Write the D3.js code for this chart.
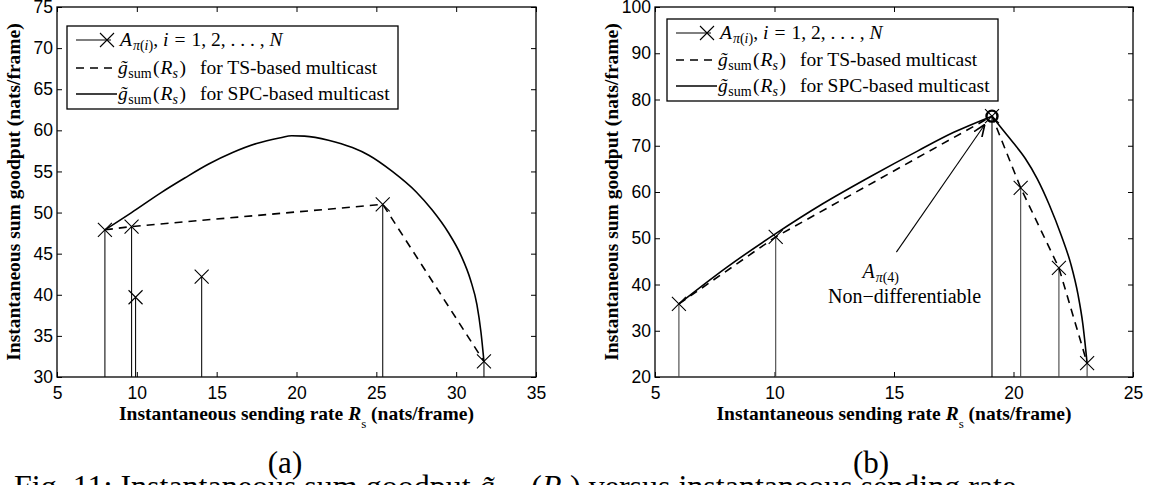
<!DOCTYPE html>
<html><head><meta charset="utf-8">
<script src="https://cdn.jsdelivr.net/npm/d3@7"></script>
<style>
html,body{margin:0;padding:0;background:#fff;overflow:hidden;}
svg{display:block;}
</style></head>
<body>
<script>
// ---------- DATA ----------
// Panel (a)
const aPointX = [8.0, 9.67, 9.92, 14.06, 25.4, 31.74];
const aPointY = [47.9, 48.3, 39.7, 42.2, 51.0, 31.9];
const aTSX = [8.0, 9.67, 25.4, 31.74];
const aTSY = [47.9, 48.3, 51.0, 31.9];
const aSPCX = [8, 9.67, 11.5, 13, 14.5, 16, 17.5, 19, 19.7, 20.5, 22, 23.5, 24.5, 26, 27.5, 28.5, 29.5, 30.3, 30.9, 31.3, 31.55, 31.74];
const aSPCY = [47.9, 50.0, 52.4, 54.2, 55.9, 57.3, 58.4, 59.1, 59.35, 59.3, 58.8, 57.9, 57.0, 55.0, 52.5, 50.3, 47.6, 44.8, 41.8, 38.8, 35.5, 31.9];
const aXTicks = [5, 10, 15, 20, 25, 30, 35];
const aYTicks = [30, 35, 40, 45, 50, 55, 60, 65, 70, 75];

// Panel (b)
const bPointX = [6.0, 10.05, 19.1, 20.3, 21.9, 23.08];
const bPointY = [35.8, 50.3, 76.4, 60.9, 43.6, 23.0];
const bTSX = [6.0, 10.05, 19.1, 20.3, 21.9, 23.08];
const bTSY = [35.8, 50.3, 76.4, 60.9, 43.6, 23.0];
const bSPCLeftX = [6, 8, 10.05, 12, 14, 16, 17.5, 19.1];
const bSPCLeftY = [35.8, 43.7, 51.0, 57.4, 63.3, 68.9, 72.9, 76.4];
const bSPCRightX = [19.1, 19.5, 20, 20.5, 21, 21.5, 22, 22.4, 22.7, 22.9, 23.08];
const bSPCRightY = [76.4, 73.8, 70.6, 67.2, 62.8, 57.2, 50.6, 44.4, 37.8, 31.5, 23.0];
const bXTicks = [5, 10, 15, 20, 25];
const bYTicks = [20, 30, 40, 50, 60, 70, 80, 90, 100];
const bPeakIndex = 2;

// Text
const xLabelMain = "Instantaneous sending rate ";
const yLabelText = "Instantaneous sum goodput (nats/frame)";
const captions = ["(a)", "(b)"];
const annot1 = "Non\u2212differentiable";
const legendSuffix = ["for TS-based multicast", "for SPC-based multicast"];

// ---------- DRAW ----------
const W = 1149, H = 485;
const ser = "'Liberation Serif', 'Times New Roman', serif";
const sans = "'Liberation Sans', Arial, sans-serif";
const svg = d3.select("body").append("svg").attr("width", W).attr("height", H)
  .style("font-family", sans);

const defs = svg.append("defs");
defs.append("marker").attr("id", "arrow").attr("viewBox", "0 0 10 10")
  .attr("refX", 10).attr("refY", 5).attr("markerWidth", 12).attr("markerHeight", 12)
  .attr("markerUnits", "userSpaceOnUse").attr("orient", "auto")
  .append("path").attr("d", "M0,1 L10,5 L0,9").attr("fill", "none").attr("stroke", "#000").attr("stroke-width", 1.4);

function zip(xs, ys) { return xs.map((x, i) => [x, ys[i]]); }
function xMark(cx, cy, m) { return `M${cx - m},${cy - m}L${cx + m},${cy + m}M${cx - m},${cy + m}L${cx + m},${cy - m}`; }

function panel(cfg) {
  const x = d3.scaleLinear().domain(cfg.xd).range([cfg.x0, cfg.x1]);
  const y = d3.scaleLinear().domain(cfg.yd).range([cfg.y1, cfg.y0]);
  const g = svg.append("g");
  const tl = 5;
  const ax = g.append("g").attr("transform", `translate(0,${cfg.y1})`)
    .call(d3.axisBottom(x).tickValues(cfg.xticks).tickSizeInner(-tl).tickSizeOuter(0));
  const axT = g.append("g").attr("transform", `translate(0,${cfg.y0})`)
    .call(d3.axisTop(x).tickValues(cfg.xticks).tickSizeInner(-tl).tickSizeOuter(0).tickFormat(""));
  const ay = g.append("g").attr("transform", `translate(${cfg.x0},0)`)
    .call(d3.axisLeft(y).tickValues(cfg.yticks).tickSizeInner(-tl).tickSizeOuter(0).tickPadding(4));
  const ayR = g.append("g").attr("transform", `translate(${cfg.x1},0)`)
    .call(d3.axisRight(y).tickValues(cfg.yticks).tickSizeInner(-tl).tickSizeOuter(0).tickFormat(""));
  [ax, axT, ay, ayR].forEach(a => {
    a.select(".domain").remove();
    a.selectAll("line").attr("stroke", "#000").attr("stroke-width", 1);
    a.selectAll("text").attr("fill", "#000").style("font-size", "17.5px").style("font-family", sans);
  });
  ax.selectAll("text").attr("y", 10).attr("dy", "0.71em");
  g.append("rect").attr("x", cfg.x0).attr("y", cfg.y0).attr("width", cfg.x1 - cfg.x0)
    .attr("height", cfg.y1 - cfg.y0).attr("fill", "none").attr("stroke", "#000").attr("stroke-width", 1.3);

  const pts = zip(cfg.px, cfg.py);
  g.selectAll(null).data(pts).enter().append("line")
    .attr("x1", d => x(d[0])).attr("x2", d => x(d[0]))
    .attr("y1", y(cfg.yd[0])).attr("y2", d => y(d[1]))
    .attr("stroke", (d, i) => i === cfg.peak ? "#000" : cfg.stemColor).attr("stroke-width", 1.1);

  const line = d3.line().x(d => x(d[0])).y(d => y(d[1]));
  const lineM = d3.line().x(d => x(d[0])).y(d => y(d[1])).curve(d3.curveMonotoneX);
  cfg.spc.forEach(s => {
    g.append("path").attr("d", lineM(s)).attr("fill", "none").attr("stroke", "#000").attr("stroke-width", 1.6);
  });
  g.append("path").attr("d", line(cfg.ts)).attr("fill", "none").attr("stroke", "#000")
    .attr("stroke-width", 1.6).attr("stroke-dasharray", "8,6");
  const m = 7;
  g.selectAll(null).data(pts).enter().append("path")
    .attr("d", d => xMark(x(d[0]), y(d[1]), m))
    .attr("stroke", "#000").attr("stroke-width", 1.1).attr("fill", "none");
  if (cfg.peak != null) {
    const d = pts[cfg.peak];
    g.append("circle").attr("cx", x(d[0])).attr("cy", y(d[1])).attr("r", 5.5)
      .attr("fill", "none").attr("stroke", "#000").attr("stroke-width", 2.4);
  }

  // axis labels
  const xl = g.append("text").attr("x", (cfg.x0 + cfg.x1) / 2).attr("y", cfg.y1 + 43)
    .attr("text-anchor", "middle").style("font-family", ser)
    .style("font-weight", "bold").style("font-size", "19.5px").attr("fill", "#000");
  xl.append("tspan").text(xLabelMain);
  xl.append("tspan").text("R").style("font-style", "italic");
  xl.append("tspan").text("s").attr("dy", 8).style("font-size", "13px").style("font-weight", "normal");
  xl.append("tspan").text(" (nats/frame)").attr("dy", -8);

  g.append("text").attr("transform", `translate(${cfg.x0 - 44},${(cfg.y0 + cfg.y1) / 2}) rotate(-90)`)
    .attr("text-anchor", "middle").attr("dy", "0.35em")
    .style("font-family", ser).style("font-weight", "bold").style("font-size", "19.5px")
    .attr("fill", "#000").text(yLabelText);

  // legend
  const L = cfg.legend;
  g.append("rect").attr("x", L.x).attr("y", L.y).attr("width", L.w).attr("height", L.h)
    .attr("fill", "#fff").attr("stroke", "#000").attr("stroke-width", 1.3);
  const X = v => L.x + v;
  const fs = "19.5px", sub = "14px";
  // row 1
  g.append("line").attr("x1", X(9)).attr("x2", X(44)).attr("y1", L.r[0]).attr("y2", L.r[0])
    .attr("stroke", "#000").attr("stroke-width", 1.1);
  g.append("path").attr("d", xMark(X(40), L.r[0], m)).attr("stroke", "#000").attr("stroke-width", 1.1);
  const t1 = g.append("text").attr("y", L.r[0] + 6).style("font-family", ser).style("font-size", fs).attr("fill", "#000");
  t1.append("tspan").attr("x", X(53)).text("A").style("font-style", "italic");
  t1.append("tspan").attr("dy", 4).attr("dx", 1).text("\u03c0").style("font-size", sub).style("font-style", "italic");
  t1.append("tspan").text("(").style("font-size", sub);
  t1.append("tspan").text("i").style("font-size", sub).style("font-style", "italic");
  t1.append("tspan").text(")").style("font-size", sub);
  t1.append("tspan").attr("dy", -4).text(",");
  t1.append("tspan").attr("dx", 5).text("i").style("font-style", "italic");
  t1.append("tspan").attr("dx", 6).text("=");
  t1.append("tspan").attr("dx", 6).text("1, 2, . . . , ");
  t1.append("tspan").text("N").style("font-style", "italic");
  // rows 2, 3
  [1, 2].forEach(k => {
    const yy = L.r[k];
    g.append("line").attr("x1", X(9)).attr("x2", X(50)).attr("y1", yy).attr("y2", yy)
      .attr("stroke", "#000").attr("stroke-width", 1.6).attr("stroke-dasharray", k === 1 ? "8,6" : null);
    const t = g.append("text").attr("y", yy + 6).style("font-family", ser).style("font-size", fs).attr("fill", "#000");
    t.append("tspan").attr("x", X(51)).text("g\u0303").style("font-style", "italic");
    t.append("tspan").attr("dy", 4).attr("dx", 0.5).text("sum").style("font-size", sub);
    t.append("tspan").attr("dy", -4).attr("dx", 1.5).text("(");
    t.append("tspan").attr("dx", 1).text("R").style("font-style", "italic");
    t.append("tspan").attr("dy", 4).text("s").style("font-size", sub).style("font-style", "italic");
    t.append("tspan").attr("dy", -4).attr("dx", 1.5).text(")");
    t.append("tspan").attr("x", X(133)).text(legendSuffix[k - 1]);
  });

  g.append("text").attr("x", cfg.capX).attr("y", 473).attr("text-anchor", "middle")
    .style("font-family", ser).style("font-size", "31px").attr("fill", "#000").text(cfg.cap);
  return { x, y, g };
}

panel({
  x0: 57, x1: 536, y0: 7, y1: 377, xd: [5, 35], yd: [30, 75], xticks: aXTicks, yticks: aYTicks,
  px: aPointX, py: aPointY, ts: zip(aTSX, aTSY), spc: [zip(aSPCX, aSPCY)], peak: null, stemColor: "#111",
  legend: { x: 67, y: 26, w: 331, h: 83, r: [40, 68, 94] }, cap: captions[0], capX: 285
});
const pb = panel({
  x0: 655, x1: 1133, y0: 7, y1: 377, xd: [5, 25], yd: [20, 100], xticks: bXTicks, yticks: bYTicks,
  px: bPointX, py: bPointY, ts: zip(bTSX, bTSY), spc: [zip(bSPCLeftX, bSPCLeftY), zip(bSPCRightX, bSPCRightY)],
  peak: bPeakIndex, stemColor: "#444",
  legend: { x: 667, y: 19, w: 331, h: 82, r: [33, 60, 86] }, cap: captions[1], capX: 871
});

// annotation in (b)
pb.g.append("line").attr("x1", pb.x(15.1)).attr("y1", pb.y(47.0))
  .attr("x2", pb.x(18.8)).attr("y2", pb.y(74.6)).attr("stroke", "#000").attr("stroke-width", 1.1)
  .attr("marker-end", "url(#arrow)");
const at = pb.g.append("text").attr("x", pb.x(13.68)).attr("y", pb.y(41.4))
  .style("font-family", ser).style("font-size", "20px").attr("fill", "#000");
at.append("tspan").text("A").style("font-style", "italic");
at.append("tspan").text("\u03c0").attr("dy", 4).attr("dx", 1).style("font-size", "14px").style("font-style", "italic");
at.append("tspan").text("(4)").style("font-size", "14px");
pb.g.append("text").attr("x", pb.x(15.44)).attr("y", pb.y(35.9)).attr("text-anchor", "middle")
  .style("font-family", ser).style("font-size", "20px").attr("fill", "#000").text(annot1);

// figure caption (cut off at bottom edge)
const fc = svg.append("text").attr("x", 14).attr("y", 497).style("font-family", ser)
  .style("font-size", "32px").attr("fill", "#000");
fc.append("tspan").text("Fig. 11: Instantaneous sum goodput ");
fc.append("tspan").text("g\u0303").style("font-style", "italic");
fc.append("tspan").text("sum").attr("dy", 6).style("font-size", "22px");
fc.append("tspan").text("(").attr("dy", -6);
fc.append("tspan").text("R").style("font-style", "italic");
fc.append("tspan").text("s").attr("dy", 6).style("font-size", "22px").style("font-style", "italic");
fc.append("tspan").text(") versus instantaneous sending rate").attr("dy", -6);
</script>
</body></html>
